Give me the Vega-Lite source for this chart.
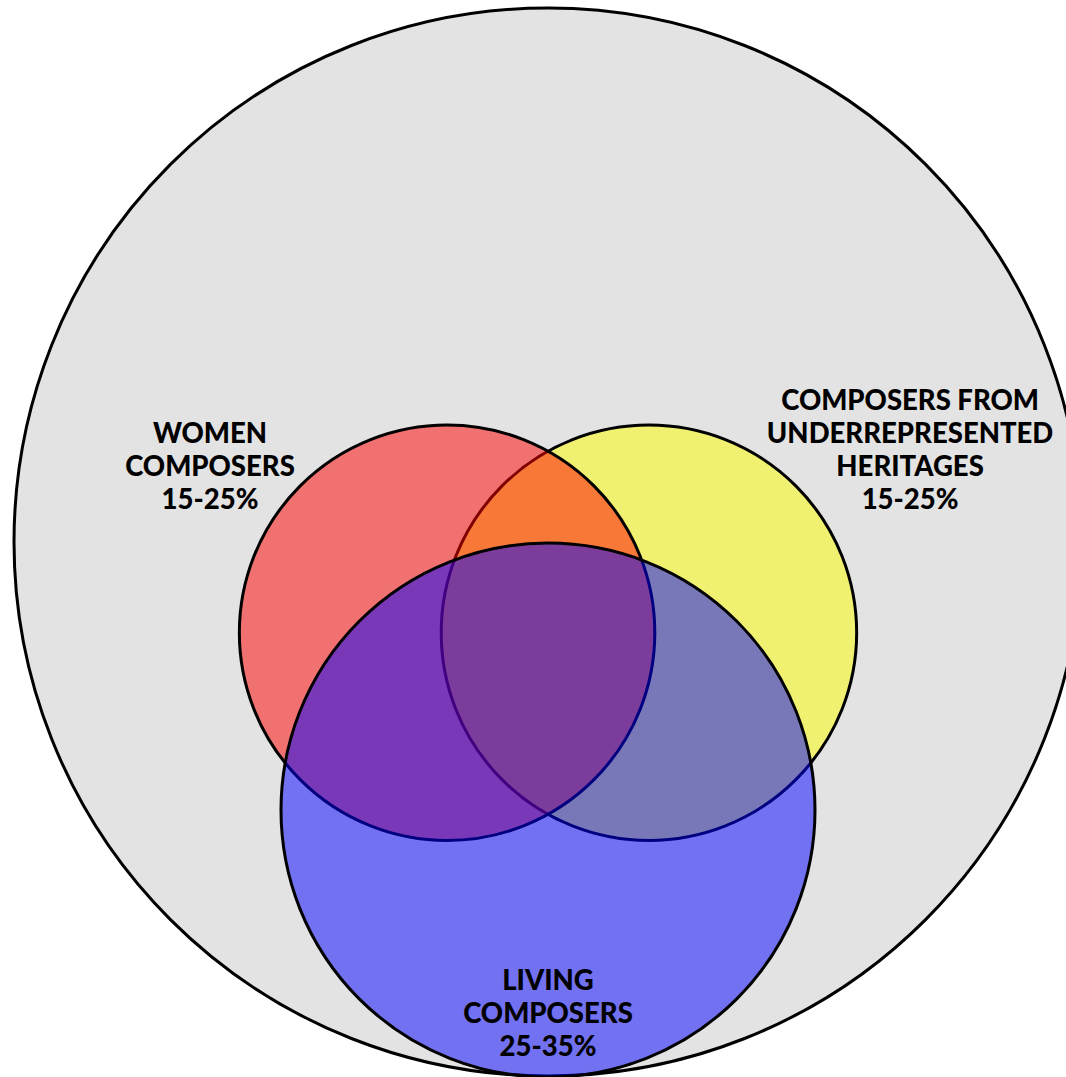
{
  "$schema": "https://vega.github.io/schema/vega-lite/v6.json",
  "width": 1066,
  "height": 1077,
  "autosize": "none",
  "padding": 0,
  "background": "white",
  "config": {"view": {"stroke": null}},
  "datasets": {
    "universe": [
      {"set": "All composers", "cx": 0, "cy": 0, "r": 100}
    ],
    "circles": [
      {"set": "Underrepresented heritages", "cx": 18.9, "cy": -17.0, "r": 38.9, "z": 1},
      {"set": "Women", "cx": -18.9, "cy": -17.0, "r": 38.9, "z": 2},
      {"set": "Living", "cx": 0, "cy": -50.2, "r": 50.0, "z": 3}
    ],
    "labels": [
      {"label": "WOMEN\nCOMPOSERS\n15-25%", "x": -63.3, "y": 20.0},
      {"label": "COMPOSERS FROM\nUNDERREPRESENTED\nHERITAGES\n15-25%", "x": 67.8, "y": 26.2},
      {"label": "LIVING\nCOMPOSERS\n25-35%", "x": 0, "y": -82.4}
    ]
  },
  "encoding": {
    "x": {"type": "quantitative", "scale": {"domain": [-102.62, 97.0], "nice": false, "zero": false}, "axis": null},
    "y": {"type": "quantitative", "scale": {"domain": [-100.19, 101.5], "nice": false, "zero": false}, "axis": null}
  },
  "layer": [
    {
      "data": {"name": "universe"},
      "mark": {"type": "point", "shape": "circle", "filled": true, "opacity": 1, "fill": "#e3e3e3", "fillOpacity": 1, "stroke": "black", "strokeWidth": 3, "strokeOpacity": 1},
      "encoding": {
        "x": {"field": "cx", "type": "quantitative"},
        "y": {"field": "cy", "type": "quantitative"},
        "size": {"field": "r", "type": "quantitative", "scale": {"type": "pow", "exponent": 2, "domain": [0, 100], "range": [0, 1140624], "zero": true}, "legend": null}
      }
    },
    {
      "data": {"name": "circles"},
      "mark": {"type": "point", "shape": "circle", "filled": true, "opacity": 1, "fillOpacity": 0.5, "stroke": "black", "strokeWidth": 3, "strokeOpacity": 1},
      "encoding": {
        "x": {"field": "cx", "type": "quantitative"},
        "y": {"field": "cy", "type": "quantitative"},
        "size": {"field": "r", "type": "quantitative", "scale": {"type": "pow", "exponent": 2, "domain": [0, 100], "range": [0, 1140624], "zero": true}, "legend": null},
        "fill": {"field": "set", "type": "nominal", "scale": {"domain": ["Underrepresented heritages", "Women", "Living"], "range": ["#ffff00", "#ff0000", "#0000ff"]}, "legend": null},
        "order": {"field": "z", "type": "quantitative"}
      }
    },
    {
      "data": {"name": "labels"},
      "mark": {"type": "text", "font": "Lato", "fontWeight": 900, "fontSize": 27.5, "lineHeight": 33, "lineBreak": "\n", "align": "center", "baseline": "middle", "color": "black"},
      "encoding": {
        "x": {"field": "x", "type": "quantitative"},
        "y": {"field": "y", "type": "quantitative"},
        "text": {"field": "label", "type": "nominal"}
      }
    }
  ]
}
